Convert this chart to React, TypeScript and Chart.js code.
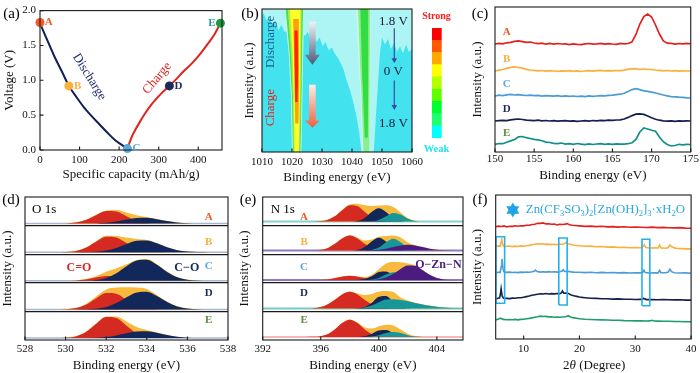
import { useEffect, useRef } from "react";
import { Chart, registerables } from "chart.js";
Chart.register(...registerables);

const SERIF = "'Liberation Serif', 'Times New Roman', serif";

// ---------- (a) charge / discharge ----------
const A_DIS_CAP = [0, 15, 35, 55, 73, 92, 110, 130, 150, 170, 190, 205, 215, 221];
const A_DIS_V = [1.82, 1.62, 1.36, 1.13, 0.92, 0.76, 0.62, 0.49, 0.37, 0.25, 0.14, 0.08, 0.04, 0.02];
const A_CHG_CAP = [221, 226, 232, 240, 252, 265, 280, 295, 310, 327, 345, 363, 385, 405, 425, 440, 456];
const A_CHG_V = [0.02, 0.1, 0.19, 0.28, 0.4, 0.52, 0.64, 0.74, 0.83, 0.92, 1.02, 1.13, 1.25, 1.38, 1.53, 1.65, 1.82];
const STATES = ["A", "B", "C", "D", "E"];
const A_STATE_CAP = [0, 73, 221, 327, 456];
const A_STATE_V = [1.83, 0.92, 0.02, 0.92, 1.82];
const A_X_TICKS = [0, 100, 200, 300, 400];
const A_Y_TICKS = [0, 0.5, 1, 1.5, 2];

// ---------- (b) operando map ----------
const B_X_TICKS = [1010, 1020, 1030, 1040, 1050, 1060];
const B_LIGHT = [[1010,0],[1060,0],[1060,0.28],[1059,0.3],[1058,0.25],[1057,0.31],[1056,0.26],[1055,0.3],[1054,0.24],[1053,0.28],[1052,0.21],[1051,0.25],[1050,0.2],[1049.3,0.32],[1048.6,0.55],[1047.9,0.78],[1047.3,1],[1043.2,1],[1042.4,0.86],[1041.4,0.74],[1040.3,0.64],[1039.2,0.56],[1038.2,0.5],[1037.3,0.43],[1036.3,0.38],[1035.2,0.34],[1034.2,0.31],[1033.3,0.27],[1032.2,0.29],[1031.2,0.23],[1030.2,0.26],[1029.2,0.2],[1028.2,0.23],[1027.2,0.18],[1026.2,0.21],[1025.2,0.16],[1024.3,0.19],[1023.5,0.15],[1019,0.15],[1017.5,0.16],[1016.5,0.11],[1015.5,0.15],[1014.5,0.08],[1013.5,0.12],[1012.5,0.05],[1011.5,0.08],[1010.5,0.03],[1010,0.04]];
const B1_FRINGE = [[1017.4,0],[1018.9,0.3],[1019.7,0.6],[1020.0,1],[1023.2,1],[1023.6,0.5],[1024.1,0]];
const B1_GREEN = [[1017.9,0],[1019.2,0.3],[1020.0,0.6],[1020.3,1],[1022.9,1],[1023.3,0.5],[1023.7,0]];
const B1_LIME = [[1018.6,0],[1019.7,0.3],[1020.3,0.6],[1020.6,1],[1022.6,1],[1023.0,0.5],[1023.2,0]];
const B1_YELLOW = [[1019.3,0],[1020.2,0.3],[1020.6,0.6],[1020.9,1],[1022.3,1],[1022.7,0.5],[1022.8,0]];
const B1_ORANGE = [[1020.4,0.07],[1020.7,0.3],[1020.9,0.6],[1021.1,0.8],[1022.2,0.8],[1022.4,0.5],[1022.3,0.07]];
const B1_RED = [[1020.8,0.15],[1020.9,0.4],[1021.1,0.65],[1021.9,0.65],[1022.1,0.4],[1021.9,0.15]];
const B2_FRINGE = [[1041.3,0],[1042.6,0.5],[1043.6,1],[1046.0,1],[1046.2,0.5],[1046.4,0]];
const B2_LGREEN = [[1042.0,0],[1043.0,0.5],[1043.9,1],[1045.8,1],[1045.9,0.5],[1046.0,0]];
const B2_GREEN = [[1042.8,0],[1043.5,0.5],[1044.3,0.9],[1045.3,0.9],[1045.4,0.5],[1045.4,0]];
const B_VOLT_TEXT = ["1.8 V", "0 V", "1.8 V"];
const B_VOLT_T = [0.089, 0.44, 0.8];
const B_VARROWS = [{ x: 1054.1, t0: 0.135, t1: 0.38 }, { x: 1054.1, t0: 0.5, t1: 0.706 }];
const B_GARROWS = [
  { x: 1026.8, t0: 0.09, th: 0.32, t1: 0.39, c0: "#eef2f6", c1: "#4a5a78" },
  { x: 1026.8, t0: 0.53, th: 0.78, t1: 0.83, c0: "#fdeee8", c1: "#f0603a" },
];
const CB_COLORS = ["#00ffff", "#20ff70", "#00ff30", "#60ff00", "#b4ff00", "#ffff00", "#ffa800", "#ff5800", "#ff0000"];

// ---------- (c) S 2p ----------
const C_X = [150,150.5,151,151.5,152,152.5,153,153.5,154,154.5,155,155.5,156,156.5,157,157.5,158,158.5,159,159.5,160,160.5,161,161.5,162,162.5,163,163.5,164,164.5,165,165.5,166,166.5,167,167.5,168,168.5,169,169.5,170,170.5,171,171.5,172,172.5,173,173.5,174,174.5,175];
const C_A = [0,0.6,0.2,1.2,1.6,2.6,3.2,2.4,1.6,2.0, 1.0,0.4,0.8,-0.2,0.6,-0.1,0.5,0.0,0.2,-0.6, 0.1,-0.3,-0.6,0.2,0.5,-0.2,0.1,0.6,-0.1,0.4, 0.0,-0.3,0.6,0.1,0.5,2.2,9.5,20,27.5,30, 27,19,10,3,0.8,0.6,-0.2,0.5,0.1,0.6, 0.2];
const C_B = [0,0.8,1.5,2.6,3.6,4.2,3.5,2.8,1.6,1.0, 0.6,0.2,0.5,-0.2,0.3,0.0,-0.4,0.2,-0.2,0.3, -0.3,0.1,-0.5,0.0,0.3,-0.2,0.4,0.6,0.0,0.3, 0.1,0.5,0.3,0.8,1.6,2.4,2.2,1.6,2.0,1.7, 1.5,1.0,0.6,0.2,0.5,0.0,0.3,-0.2,0.2,0.0, 0.1];
const C_C = [0,0.8,0.4,1.2,1.6,1.0,1.4,0.8,0.5,0.9, 0.3,0.6,-0.1,0.4,0.2,-0.2,0.3,-0.3,0.1,-0.4, 0.0,-0.5,-0.2,-0.6,0.1,-0.4,0.0,0.4,0.2,0.6, 0.8,1.3,1.8,2.8,4.5,6.4,7.3,6.4,5.2,4.6, 3.8,3.0,2.0,1.0,0.2,-0.6,-0.8,-1.2,-1.3,-1.8, -2.0];
const C_D = [0,0.3,0.6,0.4,1.2,1.6,2.0,1.5,0.8,0.6, 0.4,0.8,0.2,0.5,0.0,0.3,-0.2,0.1,0.4,-0.1, 0.2,-0.3,0.0,0.3,-0.1,0.5,0.2,0.6,0.4,0.9, 0.6,1.0,1.2,2.0,3.6,5.4,6.8,7.2,6.6,5.0, 3.2,1.8,0.8,0.2,-0.2,0.1,-0.3,0.2,-0.1,0.2, 0.0];
const C_E = [0,1.0,0.8,2.2,3.6,5.0,7.6,8.0,6.8,6.0, 5.2,4.6,3.8,2.4,2.0,1.2,0.8,1.5,0.4,0.9, 0.2,1.0,0.3,-0.2,0.6,0.0,0.5,0.9,0.2,0.6, 0.1,0.7,0.3,0.4,0.8,1.8,5.0,12.5,16.5,15.5, 14.2,13.2,7.5,2.8,0.0,-1.5,-1.0,0.2,-0.3,0.2, 0.0];
const C_SERIES = [C_A, C_B, C_C, C_D, C_E];
const C_OFFSETS = [108, 81, 56, 31, 7.5];
const C_X_TICKS = [150, 155, 160, 165, 170, 175];

// ---------- (d) O 1s ----------
const D_X = [528,528.5,529,529.5,530,530.5,531,531.5,532,532.5,533,533.5,534,534.5,535,535.5,536,536.5,537,537.5,538];
const D_RED = [
  [0,0,0,0,0.2,1.0,3.6,8.4,12.5,12.0,7.4,2.9,0.7,0.1,0,0,0,0,0,0,0],
  [0,0,0,0,0.2,1.2,4.4,10.4,15.4,14.8,9.1,3.6,0.9,0.1,0,0,0,0,0,0,0],
  [0,0,0,0,0.1,0.4,1.4,3.2,4.8,4.6,2.8,1.1,0.3,0,0,0,0,0,0,0,0],
  [0,0,0,0,0.2,1.3,4.7,11.0,16.4,15.7,9.6,3.8,1.0,0.2,0,0,0,0,0,0,0],
  [0,0,0,0,0.3,1.6,6.0,14.0,20.9,20.0,12.3,4.8,1.2,0.2,0,0,0,0,0,0,0],
];
const D_NAVY = [
  [0,0,0,0,0,0,0.05,0.2,0.8,2.1,4.0,5.7,5.9,4.4,2.5,1.0,0.3,0.1,0,0,0],
  [0,0,0,0,0,0,0.1,0.5,1.6,4.2,8.1,11.4,11.7,8.9,4.9,2.0,0.6,0.1,0,0,0],
  [0,0,0,0,0,0.03,0.2,0.8,2.9,7.6,14.6,20.4,21.1,16.0,8.9,3.6,1.1,0.2,0,0,0],
  [0,0,0,0,0,0,0.15,0.7,2.4,6.4,12.1,17.0,17.6,13.3,7.4,3.0,0.9,0.2,0,0,0],
  [0,0,0,0,0,0,0.05,0.3,0.9,2.5,4.7,6.6,6.8,5.2,2.9,1.2,0.35,0.1,0,0,0],
];
const D_ENV = [
  [0,0,0,0,0.3,1.1,3.8,8.8,13.2,13.6,11.2,8.4,6.6,4.6,2.6,1.1,0.4,0.1,0,0,0],
  [0,0,0,0,0.3,1.3,4.6,11.0,16.4,16.2,14.6,13.2,12.2,9.1,5.0,2.0,0.6,0.1,0,0,0],
  [0,0,0,0,0.1,0.5,1.8,4.8,9.0,12.5,16.5,20.8,21.8,16.5,9.2,3.7,1.1,0.2,0,0,0],
  [0,0,0,0,0.3,1.5,5.5,13.0,20.0,22.0,22.2,22.0,20.5,14.5,7.8,3.1,0.9,0.2,0,0,0],
  [0,0,0,0,0.3,1.7,6.2,14.5,21.5,21.4,16.5,11.0,8.0,5.4,2.9,1.2,0.35,0.1,0,0,0],
];
const D_BASE = [116.4, 87.8, 59.2, 30.6, 2];
const D_LABEL_Y = [122.7, 97.7, 74, 46.7, 20];
const D_X_TICKS = [528, 530, 532, 534, 536, 538];
const SUB_SEPS = [28.6, 57.2, 85.8, 114.4];

// ---------- (e) N 1s ----------
const E_X = [392,392.5,393,393.5,394,394.5,395,395.5,396,396.5,397,397.5,398,398.5,399,399.5,400,400.5,401,401.5,402,402.5,403,403.5,404,404.5,405,405.5,406];
const E_RED = [
  [0,0,0,0,0,0,0,0.06,0.4,1.8,5.4,11.4,16.2,15.6,10.1,4.5,1.3,0.3,0,0,0,0,0,0,0,0,0,0,0],
  [0,0,0,0,0,0,0,0.1,0.7,2.6,6.9,12.3,15,12.3,6.9,2.6,0.7,0.1,0,0,0,0,0,0,0,0,0,0,0],
  [0,0,0,0,0,0,0,0,0.2,0.7,2.0,3.5,4.3,3.5,2.0,0.7,0.2,0,0,0,0,0,0,0,0,0,0,0,0],
  [0,0,0,0,0,0,0.07,0.35,1.4,4.2,9.0,14.3,16.7,14.3,9.0,4.2,1.4,0.35,0,0,0,0,0,0,0,0,0,0,0],
  [0,0,0,0,0,0,0,0.13,0.76,2.9,8.0,14.2,17.3,14.2,8.0,2.9,0.76,0.13,0,0,0,0,0,0,0,0,0,0,0],
];
const E_NAVY = [
  [0,0,0,0,0,0,0,0,0,0,0,0,0.05,0.6,3.3,9.4,13.3,9.4,3.3,0.6,0.05,0,0,0,0,0,0,0,0],
  [0,0,0,0,0,0,0,0,0,0,0,0,0,0.6,3.2,9.0,12.7,9.0,3.2,0.6,0,0,0,0,0,0,0,0,0],
  [0,0,0,0,0,0,0,0,0,0,0,0,0,0.1,0.9,3.7,7.9,8.5,4.6,1.2,0.16,0,0,0,0,0,0,0,0],
  [0,0,0,0,0,0,0,0,0,0,0,0,0,0.2,1.3,5.5,11.7,12.6,6.7,1.8,0.2,0,0,0,0,0,0,0,0],
  [0,0,0,0,0,0,0,0,0,0,0,0,0,0.05,0.7,3.0,6.4,6.9,3.7,1.0,0.13,0,0,0,0,0,0,0,0],
];
const E_TEAL = [
  [0,0,0,0,0,0,0,0,0,0,0,0,0,0,0,0.24,1.6,5.3,8.6,7.0,2.8,0.6,0.06,0,0,0,0,0,0],
  [0,0,0,0,0,0,0,0,0,0,0,0,0,0,0,0.5,2.9,8.3,11.7,8.3,2.9,0.5,0,0,0,0,0,0,0],
  [0,0,0,0,0,0,0,0,0,0,0,0,0,0,0,0.3,1.9,5.4,7.7,5.4,1.9,0.3,0,0,0,0,0,0,0],
  [0,0,0,0,0,0,0,0,0,0,0,0,0,0,1.0,3.0,6.3,9.0,9.2,8.4,7.2,5.6,4.1,2.8,1.7,1.0,0.55,0.3,0.15],
  [0,0,0,0,0,0,0,0,0,0,0,0,0,0,0,0.5,1.8,3.9,5.0,3.9,1.8,0.5,0.1,0,0,0,0,0,0],
];
const E_PURPLE_B = [0,0,0,0,0,0,0,0,0,0,0,0,0,0,0.06,0.25,0.77,1.85,3.46,5.0,5.7,5.0,3.46,1.85,0.77,0.25,0.06,0,0];
const E_PURPLE_C = [0,0,0,0,0,0,0,0,0,0,0,0,0,0,0,0.17,0.75,2.5,6.2,11.1,14.6,14.2,10.1,5.3,2.0,0.6,0.1,0,0];
const E_PURPLE = [null, E_PURPLE_B, E_PURPLE_C, null, null];
const E_ENV = [
  [0,0,0,0,0,0,0,0.1,0.5,2.0,5.7,12,17,17.8,16.5,15.5,16,16.2,14.5,9,3.5,0.8,0.1,0,0,0,0,0,0],
  [0,0,0,0,0,0,0,0.1,0.7,2.6,6.9,12.4,15.2,13,10,11,13.8,14.5,15,13,8,5.3,3.5,1.9,0.8,0.25,0.06,0,0],
  [0,0,0,0,0,0,0,0,0.2,0.7,2.0,3.5,4.3,3.6,3.0,5.0,10.8,16.5,18,17.8,16.5,14.8,10.3,5.4,2.0,0.6,0.1,0,0],
  [0,0,0,0,0,0,0.1,0.4,1.5,4.4,9.2,14.5,17,15.3,13.5,14.5,17,17.5,16.5,11,8,5.8,4.2,2.9,1.8,1.0,0.55,0.3,0.15],
  [0,0,0,0,0,0,0,0.15,0.8,3.0,8.1,14.3,17.6,14.8,10,8.5,10.8,12.3,11.5,7.5,3.2,0.9,0.2,0,0,0,0,0,0],
];
const E_BASE = [118.5, 89.5, 60, 31.5, 3];
const E_BASE_COLORS = ["#86d2d2", "#9178c4", "#9178c4", "#74caca", "#f5b8b8"];
const E_LABEL_Y = [122.7, 97.7, 73.3, 46.7, 20];
const E_X_TICKS = [392, 396, 400, 404];

// ---------- (f) XRD ----------
const F_A = [[5,0],[5.5,0.6],[6,0.2],[6.5,0.8],[7,-0.2],[7.5,0.5],[8,0.3],[8.5,0.9],[9,0.4],[9.5,1.0],[10,0.8],[10.5,1.4],[11,1.5],[11.5,2.2],[12,2.5],[12.5,3.4],[13,3.3],[13.5,3.8],[14,2.8],[14.5,3.0],[15,2.4],[15.5,2.6],[16,1.8],[16.5,2.4],[17,2.2],[17.5,2.6],[17.8,3.2],[18.2,2.0],[18.7,1.5],[19.2,1.2],[20,0.8],[21,0.3],[22,0.6],[23,0.1],[24,0.4],[25,-0.2],[26,0.1],[27,-0.4],[28,-0.1],[29,-0.6],[30,-0.3],[31,-0.5],[32,-0.8],[33,-0.4],[34,-0.9],[35,-0.7],[36,-1.0],[37,-1.2],[38,-0.9],[39,-1.4],[40,-1.5]];
const F_B = [[5,0.3],[5.4,0.8],[5.8,0.5],[5.95,4.5],[6.05,8.8],[6.2,3],[6.4,0.6],[6.8,0.2],[7.3,0.7],[8,0.1],[8.5,0.6],[9,0.2],[9.5,0.8],[10,0.5],[10.5,1.0],[11,1.3],[11.5,2.0],[12,2.4],[12.5,3.0],[13,2.6],[13.5,2.9],[14,2.3],[14.5,2.6],[15,2.1],[15.5,2.5],[16,1.9],[16.5,2.3],[17,2.4],[17.4,3.3],[17.6,4.4],[17.9,2.9],[18.5,2.2],[19,1.4],[20,0.9],[21,0.4],[22,0.6],[23,0],[24,0.2],[25,-0.4],[26,-0.2],[27,-0.8],[28,-0.5],[29,-1.0],[30,-0.8],[31,-1.1],[31.4,0.2],[31.6,1.8],[31.9,-0.8],[32.5,-1.3],[33.5,-1.2],[34.1,-1.3],[34.35,1.6],[34.6,-1.2],[35.5,-1.5],[35.9,-0.8],[36.2,1.8],[36.5,0.2],[37,-1.2],[37.5,-1.8],[38.5,-1.9],[39.5,-2.2],[40,-2.3]];
const F_C = [[5,0],[5.4,0.5],[5.8,0.4],[6.0,6.5],[6.12,13.8],[6.3,4],[6.5,0.8],[7,0.3],[7.5,0.6],[8,0.2],[8.5,0.5],[9,0.1],[9.5,0.6],[10,0.3],[10.5,0.7],[11,0.4],[11.5,0.9],[11.9,1.5],[12.1,2.6],[12.4,1.2],[13,0.6],[13.5,1.0],[14,0.6],[14.5,1.1],[15,0.7],[15.5,1.0],[16,0.6],[16.5,1.0],[16.9,1.6],[17.1,3.0],[17.35,1.2],[18,1.3],[18.5,0.8],[19,0.6],[20,0.5],[21,0.1],[22,0.4],[23,0],[24,0.3],[25,-0.1],[26,0.2],[27,-0.2],[28,0.1],[29,-0.3],[30,0],[31,-0.2],[31.35,0.4],[31.55,2.6],[31.8,0.1],[32.5,-0.3],[33.5,0],[34.1,-0.2],[34.35,2.4],[34.6,0],[35.5,-0.1],[35.9,0.6],[36.2,3.4],[36.5,1.0],[37,0],[38,-0.3],[39,-0.2],[40,-0.5]];
const F_D = [[5,0],[5.3,0.5],[5.7,1.2],[5.85,5],[5.97,10.2],[6.15,3],[6.4,0.8],[7,0.6],[7.5,0.4],[8,0.9],[8.5,0.7],[9,1.3],[9.5,1.2],[10,1.8],[10.5,2.4],[11,3.0],[11.5,3.7],[12,4.3],[12.5,4.8],[13,5.3],[13.5,5.0],[14,5.5],[14.5,5.0],[15,5.4],[15.5,5.1],[16,5.5],[16.5,5.2],[16.8,6.2],[16.95,8.0],[17.2,5.8],[17.6,6.0],[18,5.6],[18.5,4.0],[19,3.2],[19.5,2.6],[20,2.0],[20.5,1.6],[21,1.3],[22,0.8],[23,0.6],[24,0.2],[25,0.3],[26,-0.1],[27,0.1],[28,-0.3],[29,-0.2],[30,-0.5],[31,-0.4],[31.5,0.6],[32,-0.6],[33,-0.5],[34,-0.8],[35,-0.6],[36,-0.7],[37,-0.9],[38,-0.8],[39,-1.1],[40,-1.1]];
const F_E = [[5,0],[5.5,0.9],[5.9,1.8],[6.3,0.6],[7,0.2],[7.5,0.5],[8,0.2],[8.5,0.6],[9,0.1],[9.5,0.6],[10,0.8],[10.5,1.2],[11,1.6],[11.5,2.1],[12,2.8],[12.5,3.3],[13,3.9],[13.5,3.5],[14,3.6],[14.5,3.1],[15,3.2],[15.5,2.8],[16,3.0],[16.5,2.7],[17,3.0],[17.5,3.3],[18,4.3],[18.4,3.0],[19,2.1],[19.5,1.8],[20,1.3],[21,0.8],[22,0.5],[23,0.3],[24,0.1],[25,0],[26,-0.3],[27,-0.3],[28,-0.6],[29,-0.7],[30,-0.9],[31,-0.9],[32,-1.0],[32.6,-0.9],[33,-0.3],[33.4,-1.0],[34,-1.1],[35,-1.3],[36,-1.3],[37,-1.5],[38,-1.5],[39,-1.7],[40,-1.7]];
const F_SERIES = [F_A, F_B, F_C, F_D, F_E];
const F_OFFSETS = [112.3, 92.3, 66.3, 40, 19];
const F_BOXES = [[5.05, 6.6, 35.7, 102.3], [16.3, 17.8, 34, 101], [31.2, 32.6, 33.3, 99.7]];
const F_STAR = [8.07, 129];
const F_LEGEND_AT = [10.4, 129];
const F_X_TICKS = [10, 20, 30, 40];

// ---------- colours ----------
const LINE_COLORS = ["#e0211d", "#fbb03b", "#4a9bd6", "#141f4e", "#138f8a"];
const F_COLORS = ["#e0211d", "#fbb03b", "#4a9bd6", "#141f4e", "#1d9e6a"];
const LABEL_COLORS = ["#f05a28", "#fbb03b", "#5aa7de", "#1b2a5c", "#5b8c3a"];
const POINT_COLORS = ["#f15a24", "#fbb03b", "#5ba8dc", "#1b2b5e", "#1e9a3c"];
const XPS_RED = "#d42a22", XPS_NAVY = "#13285a", XPS_YEL = "#f8ba3c", XPS_TEAL = "#179799", XPS_PURP = "#4a1c80";

// ---------- helpers ----------
type Pt = { x: number; y: number };
const toPts = (xs: number[], ys: number[], off = 0): Pt[] => xs.map((x, i) => ({ x, y: ys[i] + off }));
const pairPts = (pairs: number[][], off = 0): Pt[] => pairs.map(([x, y]) => ({ x, y: y + off }));
const bold = (s: number) => `bold ${s}px ${SERIF}`;
const reg = (s: number) => `${s}px ${SERIF}`;

function framePlugin(ticksX: boolean, ticksY: boolean) {
  return {
    id: "frame",
    afterDatasetsDraw(chart: any) {
      const { ctx, chartArea: c } = chart;
      ctx.save();
      ctx.strokeStyle = "#1a1a1a";
      ctx.lineWidth = 1.1;
      ctx.strokeRect(c.left, c.top, c.right - c.left, c.bottom - c.top);
      ctx.beginPath();
      if (ticksX) for (const t of chart.scales.x.ticks) {
        const x = chart.scales.x.getPixelForValue(t.value);
        ctx.moveTo(x, c.bottom); ctx.lineTo(x, c.bottom - 3.5);
      }
      if (ticksY) for (const t of chart.scales.y.ticks) {
        const y = chart.scales.y.getPixelForValue(t.value);
        ctx.moveTo(c.left, y); ctx.lineTo(c.left + 3.5, y);
      }
      ctx.stroke();
      ctx.restore();
    },
  };
}

type Note = { x: number; y: number; px?: boolean; text?: string; parts?: { text: string; font?: string; dy?: number }[]; font?: string; color?: string; align?: string; rot?: number };
function notesPlugin(items: Note[]) {
  return {
    id: "notes",
    afterDraw(chart: any) {
      const { ctx } = chart;
      for (const it of items) {
        let x = it.x, y = it.y;
        if (!it.px) { x = chart.scales.x.getPixelForValue(it.x); y = chart.scales.y.getPixelForValue(it.y); }
        ctx.save();
        ctx.translate(x, y);
        if (it.rot) ctx.rotate((it.rot * Math.PI) / 180);
        ctx.textBaseline = "middle";
        ctx.textAlign = "left";
        ctx.fillStyle = it.color || "#000";
        const parts = it.parts || [{ text: it.text || "", font: it.font }];
        let total = 0;
        const ws = parts.map((p) => { ctx.font = p.font || it.font || reg(13); const w = ctx.measureText(p.text).width; total += w; return w; });
        let cx = it.align === "left" ? 0 : it.align === "right" ? -total : -total / 2;
        parts.forEach((p, i) => { ctx.font = p.font || it.font || reg(13); ctx.fillText(p.text, cx, p.dy || 0); cx += ws[i]; });
        ctx.restore();
      }
    },
  };
}

function bgPlugin(color: string) {
  return {
    id: "bg",
    beforeDatasetsDraw(chart: any) {
      const { ctx, chartArea: c } = chart;
      ctx.save(); ctx.fillStyle = color; ctx.fillRect(c.left, c.top, c.right - c.left, c.bottom - c.top); ctx.restore();
    },
  };
}

function makeOptions(c: any) {
  const yTicks = c.yticks || c.ygrid || [];
  const yTickOpts: any = { display: !!c.yticks, color: "#111", font: { family: SERIF, size: 11 }, padding: c.ytickPad ?? 4 };
  if (c.yfmt) yTickOpts.callback = (v: any) => c.yfmt(v);
  return {
    responsive: false,
    animation: false,
    events: [],
    layout: { padding: { left: 0, top: c.top, right: c.right, bottom: 0 } },
    plugins: { legend: { display: false }, tooltip: { enabled: false } },
    elements: { point: { radius: 0 } },
    scales: {
      x: {
        type: "linear", min: c.xmin, max: c.xmax,
        afterFit: (s: any) => { s.height = c.xh; },
        afterBuildTicks: (s: any) => { s.ticks = c.xticks.map((v: number) => ({ value: v })); },
        grid: { display: false, drawTicks: false }, border: { display: false },
        ticks: { color: "#111", font: { family: SERIF, size: 11 }, padding: c.xtickPad, maxRotation: 0, autoSkip: false, callback: (v: any) => String(v) },
        title: { display: !!c.xtitle, text: c.xtitle || "", color: "#111", font: { family: SERIF, size: 13 }, padding: { top: 0, bottom: c.xtitlePad ?? 0 } },
      },
      y: {
        type: "linear", min: c.ymin, max: c.ymax, reverse: !!c.yreverse,
        afterFit: (s: any) => { s.width = c.yw; },
        afterBuildTicks: (s: any) => { s.ticks = yTicks.map((v: number) => ({ value: v })); },
        grid: c.ygrid ? { display: true, color: "#1a1a1a", lineWidth: 1.2, drawTicks: false } : { display: false, drawTicks: false },
        border: { display: false },
        ticks: yTickOpts,
        title: { display: !!c.ytitle, text: c.ytitle || "", color: "#111", font: { family: SERIF, size: 13 }, padding: { top: c.ytitlePad ?? 0, bottom: 0 } },
      },
    },
  };
}

// ---------- panel builders ----------
function buildA(cv: HTMLCanvasElement) {
  const notes: Note[] = [{ x: 11.5, y: 14, px: true, text: "(a)", font: reg(15) }];
  STATES.forEach((s, i) => {
    const right = i === 4;
    notes.push({ x: right ? A_STATE_CAP[i] - 12 : A_STATE_CAP[i] + (i === 0 ? 12 : 13), y: A_STATE_V[i], text: s, font: bold(11), color: i === 4 ? "#2a9d8f" : LABEL_COLORS[i], align: right ? "right" : "left" });
  });
  notes.push({ x: 124.5, y: 1.05, text: "Discharge", font: reg(13), color: "#1a2a6c", rot: 58 });
  notes.push({ x: 296, y: 1.03, text: "Charge", font: reg(13), color: "#e0241d", rot: -50 });
  return new Chart(cv, {
    type: "line",
    data: {
      datasets: [
        { data: toPts(A_STATE_CAP, A_STATE_V), showLine: false, pointRadius: 4.5, pointBackgroundColor: POINT_COLORS, pointBorderWidth: 0, clip: false } as any,
        { data: toPts(A_DIS_CAP, A_DIS_V), borderColor: "#0e1f5b", borderWidth: 2, tension: 0.4, cubicInterpolationMode: "monotone" },
        { data: toPts(A_CHG_CAP, A_CHG_V), borderColor: "#e0231d", borderWidth: 2, tension: 0.4, cubicInterpolationMode: "monotone" },
      ],
    },
    options: makeOptions({ top: 5, right: 18, xh: 40, yw: 40, xmin: 0, xmax: 460, xticks: A_X_TICKS, xtickPad: 3.4, xtitle: "Specific capacity (mAh/g)", xtitlePad: 7.2, ymin: 0, ymax: 2, yticks: A_Y_TICKS, ytickPad: 4, yfmt: (v: number) => Number(v).toFixed(1), ytitle: "Voltage (V)", ytitlePad: 2.2 }) as any,
    plugins: [framePlugin(true, true), notesPlugin(notes)],
  });
}

function buildB(cv: HTMLCanvasElement) {
  const poly = (pts: number[][], color: string) => ({ data: pairPts(pts), fill: "shape", backgroundColor: color, borderWidth: 0, tension: 0.0001 });
  const notes: Note[] = [
    { x: 20, y: 14, px: true, text: "(b)", font: reg(15) },
    { x: 1012.7, y: 0.23, text: "Discharge", font: reg(13), color: "#1d5a8c", rot: -90 },
    { x: 1012.7, y: 0.69, text: "Charge", font: reg(13), color: "#e8201c", rot: -90 },
  ];
  B_VOLT_TEXT.forEach((t, i) => notes.push({ x: 1053.8, y: B_VOLT_T[i], text: t, font: reg(13), color: "#1a1a3a" }));
  const arrows = {
    id: "arrows",
    afterDatasetsDraw(chart: any) {
      const { ctx, scales: { x, y } } = chart;
      ctx.save();
      for (const a of B_GARROWS) {
        const px = x.getPixelForValue(a.x), y0 = y.getPixelForValue(a.t0), yh = y.getPixelForValue(a.th), y1 = y.getPixelForValue(a.t1);
        const g = ctx.createLinearGradient(0, y0, 0, y1);
        g.addColorStop(0, a.c0); g.addColorStop(1, a.c1);
        ctx.fillStyle = g;
        ctx.beginPath();
        ctx.moveTo(px - 3.3, y0); ctx.lineTo(px + 3.3, y0); ctx.lineTo(px + 3.3, yh); ctx.lineTo(px + 7.5, yh);
        ctx.lineTo(px, y1); ctx.lineTo(px - 7.5, yh); ctx.lineTo(px - 3.3, yh); ctx.closePath(); ctx.fill();
      }
      ctx.strokeStyle = "#3b4a9c"; ctx.fillStyle = "#3b4a9c"; ctx.lineWidth = 1.2;
      for (const a of B_VARROWS) {
        const px = x.getPixelForValue(a.x), y0 = y.getPixelForValue(a.t0), y1 = y.getPixelForValue(a.t1);
        ctx.beginPath(); ctx.moveTo(px, y0); ctx.lineTo(px, y1 - 4); ctx.stroke();
        ctx.beginPath(); ctx.moveTo(px - 2.8, y1 - 5); ctx.lineTo(px + 2.8, y1 - 5); ctx.lineTo(px, y1); ctx.closePath(); ctx.fill();
      }
      ctx.restore();
    },
  };
  return new Chart(cv, {
    type: "line",
    data: {
      datasets: [
        poly(B1_RED, "#ff2400"), poly(B1_ORANGE, "#ffa010"), poly(B1_YELLOW, "#ffff2a"), poly(B1_LIME, "#acf23c"),
        poly(B1_GREEN, "#3ee45a"), poly(B1_FRINGE, "#cdf7e4"),
        poly(B2_GREEN, "#34dc44"), poly(B2_LGREEN, "#86f08a"), poly(B2_FRINGE, "#cdf7e4"),
        poly(B_LIGHT, "#adf4f5"),
      ] as any,
    },
    options: makeOptions({ top: 9, right: 18, xh: 38, yw: 32, xmin: 1010, xmax: 1060, xticks: B_X_TICKS, xtickPad: 3.4, xtitle: "Binding energy (eV)", xtitlePad: 4.2, ymin: 0, ymax: 1, yreverse: true, ytitle: "Intensity (a.u.)", ytitlePad: 12.2 }) as any,
    plugins: [bgPlugin("#42e3ef"), arrows, framePlugin(true, false), notesPlugin(notes)],
  });
}

function buildColorbar(cv: HTMLCanvasElement) {
  const notes: Note[] = [
    { x: 21.5, y: 8, px: true, text: "Strong", font: bold(10), color: "#ff1a1a" },
    { x: 21.5, y: 141, px: true, text: "Weak", font: bold(10.5), color: "#22e2f0" },
  ];
  return new Chart(cv, {
    type: "bar",
    data: { labels: [""], datasets: CB_COLORS.map((c) => ({ data: [1], backgroundColor: c, borderWidth: 0, barPercentage: 1, categoryPercentage: 1 })) },
    options: {
      responsive: false, animation: false, events: [],
      layout: { padding: { left: 17, right: 18.3, top: 20, bottom: 20 } },
      plugins: { legend: { display: false }, tooltip: { enabled: false } },
      scales: { x: { display: false, stacked: true }, y: { display: false, stacked: true, min: 0, max: 9 } },
    } as any,
    plugins: [notesPlugin(notes)],
  });
}

function buildC(cv: HTMLCanvasElement) {
  const notes: Note[] = [{ x: 15, y: 14, px: true, text: "(c)", font: reg(15) }];
  STATES.forEach((s, i) => notes.push({ x: 151.5, y: C_OFFSETS[i] + 11.5, text: s, font: bold(11), color: LABEL_COLORS[i] }));
  return new Chart(cv, {
    type: "line",
    data: { datasets: C_SERIES.map((ys, i) => ({ data: toPts(C_X, ys, C_OFFSETS[i]), borderColor: LINE_COLORS[i], borderWidth: 1.7, tension: 0 })) as any },
    options: makeOptions({ top: 7, right: 9, xh: 38, yw: 30, xmin: 150, xmax: 175, xticks: C_X_TICKS, xtickPad: 1, xtitle: "Binding energy (eV)", xtitlePad: 6.2, ymin: 0, ymax: 145, ytitle: "Intensity (a.u.)", ytitlePad: 5.2 }) as any,
    plugins: [framePlugin(true, false), notesPlugin(notes)],
  });
}

function buildD(cv: HTMLCanvasElement) {
  const ds: any[] = [];
  D_BASE.forEach((b, i) => {
    ds.push({ data: toPts(D_X, D_NAVY[i], b), fill: { value: b }, backgroundColor: XPS_NAVY, borderWidth: 0, tension: 0.4, cubicInterpolationMode: "monotone" });
    ds.push({ data: toPts(D_X, D_RED[i], b), fill: { value: b }, backgroundColor: XPS_RED, borderWidth: 0, tension: 0.4, cubicInterpolationMode: "monotone" });
    ds.push({ data: toPts(D_X, D_ENV[i], b), fill: { value: b }, backgroundColor: XPS_YEL, borderWidth: 0, tension: 0.4, cubicInterpolationMode: "monotone" });
    ds.push({ data: [{ x: D_X[0], y: b }, { x: D_X[D_X.length - 1], y: b }], borderColor: "#a6b6d2", borderWidth: 1.5 });
  });
  const notes: Note[] = [
    { x: 11, y: 15, px: true, text: "(d)", font: reg(15) },
    { x: 528.35, y: 130, text: "O 1s", font: reg(13), align: "left" },
    { x: 530.66, y: 71.7, text: "C=O", font: bold(12), color: XPS_RED },
    { x: 535.97, y: 72, text: "C\u2212O", font: bold(12), color: XPS_NAVY },
  ];
  STATES.forEach((s, i) => notes.push({ x: 537.05, y: D_LABEL_Y[i], text: s, font: bold(11), color: LABEL_COLORS[i] }));
  return new Chart(cv, {
    type: "line",
    data: { datasets: ds },
    options: makeOptions({ top: 12, right: 12, xh: 33, yw: 25, xmin: 528, xmax: 538, xticks: D_X_TICKS, xtickPad: 2.4, xtitle: "Binding energy (eV)", xtitlePad: 0, ymin: 0, ymax: 143, ygrid: SUB_SEPS, ytitle: "Intensity (a.u.)", ytitlePad: 0 }) as any,
    plugins: [framePlugin(true, false), notesPlugin(notes)],
  });
}

function buildE(cv: HTMLCanvasElement) {
  const ds: any[] = [];
  const area = (ys: number[], b: number, color: string) => ({ data: toPts(E_X, ys, b), fill: { value: b }, backgroundColor: color, borderWidth: 0, tension: 0.4, cubicInterpolationMode: "monotone" });
  E_BASE.forEach((b, i) => {
    const p = E_PURPLE[i];
    if (p) ds.push(area(p, b, XPS_PURP));
    ds.push(area(E_TEAL[i], b, XPS_TEAL));
    ds.push(area(E_NAVY[i], b, XPS_NAVY));
    ds.push(area(E_RED[i], b, XPS_RED));
    ds.push(area(E_ENV[i], b, XPS_YEL));
    ds.push({ data: [{ x: E_X[0], y: b }, { x: E_X[E_X.length - 1], y: b }], borderColor: E_BASE_COLORS[i], borderWidth: 1.8 });
  });
  const notes: Note[] = [
    { x: 16, y: 15, px: true, text: "(e)", font: reg(15) },
    { x: 392.55, y: 130, text: "N 1s", font: reg(13), align: "left" },
    { x: 405.7, y: 75, text: "O\u2212Zn\u2212N", font: bold(12), color: XPS_PURP, align: "right" },
  ];
  STATES.forEach((s, i) => notes.push({ x: 394.85, y: E_LABEL_Y[i], text: s, font: bold(11), color: LABEL_COLORS[i] }));
  return new Chart(cv, {
    type: "line",
    data: { datasets: ds },
    options: makeOptions({ top: 12, right: 7, xh: 33, yw: 30.7, xmin: 392, xmax: 405.8, xticks: E_X_TICKS, xtickPad: 2.4, xtitle: "Binding energy (eV)", xtitlePad: 0, ymin: 0, ymax: 143, ygrid: SUB_SEPS, ytitle: "Intensity (a.u.)", ytitlePad: 5.2 }) as any,
    plugins: [framePlugin(true, false), notesPlugin(notes)],
  });
}

function buildF(cv: HTMLCanvasElement) {
  const ds: any[] = [];
  ds.push({ data: [{ x: F_STAR[0], y: F_STAR[1] }], showLine: false, pointStyle: "triangle", pointRadius: 7.5, pointRotation: 0, pointBackgroundColor: "#1ea4e4", pointBorderWidth: 0 });
  ds.push({ data: [{ x: F_STAR[0], y: F_STAR[1] }], showLine: false, pointStyle: "triangle", pointRadius: 7.5, pointRotation: 180, pointBackgroundColor: "#1ea4e4", pointBorderWidth: 0 });
  F_BOXES.forEach(([x0, x1, y0, y1]) => ds.push({ data: [{ x: x0, y: y0 }, { x: x1, y: y0 }, { x: x1, y: y1 }, { x: x0, y: y1 }, { x: x0, y: y0 }], borderColor: "#23b0ee", borderWidth: 1.6, tension: 0.0001 }));
  F_SERIES.forEach((pairs, i) => ds.push({ data: pairPts(pairs, F_OFFSETS[i]), borderColor: F_COLORS[i], borderWidth: 1.6, tension: 0 }));
  const sub = reg(8.5);
  const main = reg(12.8);
  const notes: Note[] = [
    { x: 15, y: 15, px: true, text: "(f)", font: reg(15) },
    {
      x: F_LEGEND_AT[0], y: F_LEGEND_AT[1], align: "left", color: "#28a8e2", font: main,
      parts: [
        { text: "Zn(CF" }, { text: "3", font: sub, dy: 3.5 }, { text: "SO" }, { text: "3", font: sub, dy: 3.5 }, { text: ")" }, { text: "2", font: sub, dy: 3.5 },
        { text: "[Zn(OH)" }, { text: "2", font: sub, dy: 3.5 }, { text: "]" }, { text: "3", font: sub, dy: 3.5 }, { text: "\u00b7xH" }, { text: "2", font: sub, dy: 3.5 }, { text: "O" },
      ],
    },
    { x: 129.2, y: 180.5, px: true, color: "#111", font: reg(13), parts: [{ text: "2" }, { text: "\u03b8", font: `italic 13px ${SERIF}` }, { text: " (Degree)" }] },
  ];
  return new Chart(cv, {
    type: "line",
    data: { datasets: ds },
    options: makeOptions({ top: 10, right: 7.3, xh: 34, yw: 30.7, xmin: 5, xmax: 40, xticks: F_X_TICKS, xtickPad: 3.4, ymin: 0, ymax: 144, ytitle: "Intensity (a.u.)", ytitlePad: 5.2 }) as any,
    plugins: [framePlugin(true, false), notesPlugin(notes)],
  });
}

const LAYOUT: Record<string, number[]> = {
  a: [0, 0, 240, 190],
  b: [230, 0, 200, 190],
  cb: [415, 8, 45, 150],
  c: [465, 0, 235, 190],
  d: [0, 185, 240, 188],
  e: [232, 185, 238, 188],
  f: [465, 185, 235, 188],
};
const BUILDERS: Record<string, (cv: HTMLCanvasElement) => Chart> = { a: buildA, b: buildB, cb: buildColorbar, c: buildC, d: buildD, e: buildE, f: buildF };

export default function App() {
  const refs = useRef<Record<string, HTMLCanvasElement | null>>({});
  useEffect(() => {
    document.body.style.margin = "0";
    const charts: Chart[] = [];
    for (const k of Object.keys(LAYOUT)) {
      const cv = refs.current[k];
      if (cv) charts.push(BUILDERS[k](cv));
    }
    return () => charts.forEach((c) => c.destroy());
  }, []);
  return (
    <div style={{ position: "absolute", left: 0, top: 0, width: 700, height: 373, background: "#fff", overflow: "hidden" }}>
      {Object.keys(LAYOUT).map((k) => {
        const [l, t, w, h] = LAYOUT[k];
        return (
          <canvas
            key={k}
            ref={(el) => { refs.current[k] = el; }}
            width={w}
            height={h}
            style={{ position: "absolute", left: l, top: t, width: w, height: h }}
          />
        );
      })}
    </div>
  );
}
